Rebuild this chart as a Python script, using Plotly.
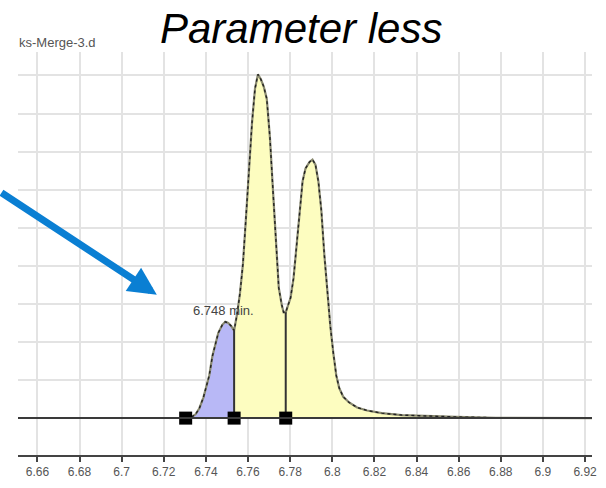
import numpy as np
import plotly.graph_objects as go

# Chromatogram signal (retention time in min, intensity in arbitrary grid units)
time = [6.6508, 6.7304, 6.7332, 6.7351, 6.7369, 6.7388, 6.7402, 6.7416, 6.7431, 6.7445,
        6.7459, 6.7478, 6.7492, 6.7506, 6.7520, 6.7534, 6.7548, 6.7562, 6.7576, 6.7591,
        6.7605, 6.7619, 6.7633, 6.7647, 6.7661, 6.7675, 6.7689, 6.7704, 6.7718, 6.7732,
        6.7746, 6.7760, 6.7769, 6.7779, 6.7788, 6.7802, 6.7816, 6.7831, 6.7845, 6.7859,
        6.7873, 6.7892, 6.7906, 6.7920, 6.7934, 6.7948, 6.7962, 6.7976, 6.7991, 6.8005,
        6.8019, 6.8033, 6.8052, 6.8080, 6.8118, 6.8165, 6.8235, 6.8329, 6.8447, 6.8588,
        6.8776, 6.9233]
intensity = [0.0, 0.0, 0.03, 0.10, 0.26, 0.54, 0.82, 1.12, 1.63, 1.96,
             2.24, 2.45, 2.53, 2.50, 2.42, 2.30, 2.73, 3.29, 4.06, 5.33,
             6.61, 7.76, 8.65, 9.03, 8.90, 8.70, 8.39, 7.37, 6.02, 4.57,
             3.42, 2.98, 2.78, 2.78, 2.93, 3.16, 3.67, 4.57, 5.59, 6.22,
             6.56, 6.73, 6.79, 6.66, 6.22, 5.46, 4.31, 3.29, 2.40, 1.71,
             1.12, 0.79, 0.56, 0.41, 0.28, 0.20, 0.13, 0.08, 0.05, 0.03,
             0.01, 0.0]

# Integration boundaries (min)
boundaries = [6.7304, 6.7534, 6.7779]
peak_label = "6.748 min."
peak_label_time = 6.7482
peak_label_level = 2.83

tick_vals = [6.66, 6.68, 6.70, 6.72, 6.74, 6.76, 6.78, 6.80, 6.82, 6.84, 6.86, 6.88, 6.90, 6.92]
tick_text = ["6.66", "6.68", "6.7", "6.72", "6.74", "6.76", "6.78", "6.8", "6.82", "6.84",
             "6.86", "6.88", "6.9", "6.92"]

title_text = "Parameter less"
file_text = "ks-Merge-3.d"

t = np.array(time)
s = np.array(intensity)
x_range = [6.6508, 6.9233]
y_range = [-0.969, 9.617]

fig = go.Figure()

# Blue peak region
mb = (t >= boundaries[0]) & (t <= boundaries[1])
fig.add_trace(go.Scatter(x=t[mb], y=s[mb], mode="lines", fill="tozeroy",
                         fillcolor="#b8b8f6", line=dict(width=0), hoverinfo="skip",
                         showlegend=False))
# Yellow peak region
my = t >= boundaries[1]
fig.add_trace(go.Scatter(x=t[my], y=s[my], mode="lines", fill="tozeroy",
                         fillcolor="#fdfdc0", line=dict(width=0), hoverinfo="skip",
                         showlegend=False))

# Outline of peaks
mo = t >= boundaries[0]
fig.add_trace(go.Scatter(x=t[mo], y=s[mo], mode="lines",
                         line=dict(color="#8a8a70", width=2.2), hoverinfo="skip",
                         showlegend=False))
fig.add_trace(go.Scatter(x=t[mo], y=s[mo], mode="lines",
                         line=dict(color="#222222", width=1.4, dash="3px,3px"),
                         hoverinfo="skip", showlegend=False))

# Baseline
fig.add_shape(type="line", xref="paper", x0=0, x1=1, yref="y", y0=0, y1=0,
              line=dict(color="#3a3a3a", width=2), layer="above")

# Boundary drop lines
for b in boundaries[1:]:
    top = float(np.interp(b, t, s))
    fig.add_trace(go.Scatter(x=[b, b], y=[0, top], mode="lines",
                             line=dict(color="#333333", width=2), hoverinfo="skip",
                             showlegend=False))

# Boundary square markers
fig.add_trace(go.Scatter(x=boundaries, y=[0] * len(boundaries), mode="markers",
                         marker=dict(symbol="square", size=13, color="#000000"),
                         hoverinfo="skip", showlegend=False))

# Peak label
fig.add_annotation(x=peak_label_time, y=peak_label_level, text=peak_label,
                   showarrow=False, font=dict(family="Liberation Sans", size=13, color="#444444"))

# Blue arrow
fig.add_annotation(x=6.7167, y=3.24, xref="x", yref="y", text="", showarrow=True,
                   ax=-168, ay=-103, axref="pixel", ayref="pixel",
                   arrowhead=2, arrowsize=0.8, arrowwidth=7, arrowcolor="#0a7fd3")

# Title and file name
fig.add_annotation(x=0.493, y=1.058, xref="paper", yref="paper", yanchor="middle",
                   text="<i>" + title_text + "</i>", showarrow=False,
                   font=dict(family="Liberation Sans", size=42, color="#000000"))
fig.add_annotation(x=-0.002, y=1.024, xref="paper", yref="paper", xanchor="left",
                   yanchor="middle", text=file_text, showarrow=False,
                   font=dict(family="Liberation Sans", size=13, color="#555555"))

fig.update_layout(
    width=606, height=488,
    margin=dict(l=18, r=9, t=52, b=21),
    paper_bgcolor="white", plot_bgcolor="white",
    showlegend=False,
)
fig.update_xaxes(range=x_range, tickvals=tick_vals, ticktext=tick_text,
                 showgrid=True, gridcolor="#e3e3e3", gridwidth=2,
                 showline=True, linecolor="#444444", linewidth=2,
                 ticks="outside", ticklen=5, tickwidth=2, tickcolor="#444444",
                 tickfont=dict(family="Liberation Sans", size=12, color="#555555"),
                 zeroline=False)
fig.update_yaxes(range=y_range, dtick=1, tick0=0, showticklabels=False,
                 showgrid=True, gridcolor="#e3e3e3", gridwidth=2,
                 zeroline=False, showline=False, ticks="")

fig.write_html("out.html")
